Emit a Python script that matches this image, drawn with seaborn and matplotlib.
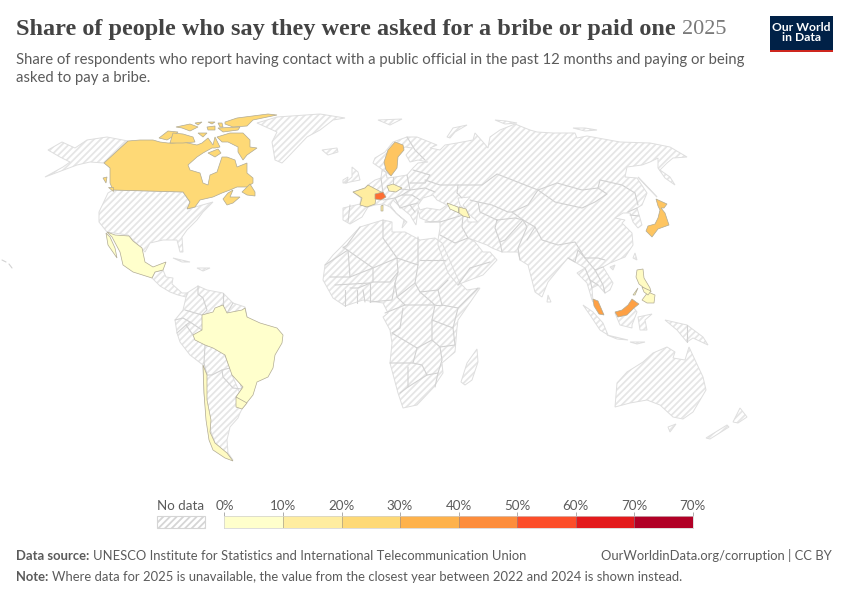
import numpy as np
import matplotlib.pyplot as plt
from matplotlib.colors import ListedColormap
import seaborn as sns

CANADA = [
    [(128,141),(140,140),(153,140),(160,142),(168,143),(173,143),(183,142),(197,145),(202,143),(208,138),(213,145),
     (215,137),(220,147),(215,148),(212,148),(203,153),(197,157),(188,165),(190,170),(200,173),(203,183),(208,185),
     (210,175),(217,172),(222,157),(227,157),(235,160),(237,167),(247,163),(247,173),(253,178),(253,183),(247,187),
     (237,187),(230,190),(222,193),(213,197),(200,200),(195,207),(187,209),(190,202),(183,192),(113,190),(110,183),
     (110,168),(104,163)],
    [(225,122),(237,118),(268,114),(277,115),(253,120),(247,126),(233,127),(225,124)],
    [(218,128),(240,127),(238,130),(223,132)],
    [(176,127),(190,124),(198,127),(190,131),(182,128)],
    [(195,123),(202,122),(198,125)],
    [(208,122),(215,122),(212,124)],
    [(207,127),(215,126),(215,130),(208,130)],
    [(218,123),(222,123),(223,127),(220,127)],
    [(159,138),(168,131),(178,132),(172,137),(167,140)],
    [(170,143),(173,133),(183,134),(193,137),(195,142),(183,143)],
    [(198,133),(207,133),(203,137)],
    [(217,137),(230,133),(243,133),(250,140),(250,147),(257,148),(247,155),(243,160),(238,152),(238,147),(228,142),(222,142)],
    [(208,153),(218,149),(221,153),(215,157)],
    [(242,192),(250,184),(255,192),(255,196),(247,195)],
    [(223,199),(228,193),(233,190),(230,197),(240,197),(233,203),(227,205)],
    [(103,178),(107,177),(106,183)],
    [(108,187),(113,187),(113,191)],
]
MEXICO = [
    [(107,232),(115,235),(129,236),(133,241),(142,248),(145,262),(153,267),(166,262),(163,270),(155,272),(152,278),
     (133,272),(123,265),(120,252),(112,237)],
    [(106,233),(108,245),(117,258),(115,248),(110,237)],
]
BRAZIL = [[(202,315),(213,312),(215,308),(223,305),(227,313),(242,310),(245,308),(247,317),(260,323),(277,328),
           (283,335),(282,343),(275,355),(273,368),(268,377),(257,382),(253,395),(245,405),(236,397),(243,387),
           (232,375),(225,355),(213,348),(205,345),(195,340),(193,335),(202,330)]]
URUGUAY = [[(236,397),(247,403),(242,409),(236,407)]]
CHILE = [[(203,365),(207,375),(207,400),(211,420),(210,432),(215,443),(227,453),(233,461),(225,458),(213,450),
          (209,440),(206,420),(204,393)]]
FRANCE = [
    [(353,192),(365,188),(368,185),(383,193),(376,198),(375,204),(367,207),(360,205),(362,198)],
    [(381,206),(383,205),(383,211),(381,211)],
]
SWITZERLAND = [[(375,194),(383,192),(386,197),(381,200),(375,199)]]
SWEDEN = [[(395,142),(403,145),(404,150),(398,157),(397,168),(391,176),(386,170),(384,162),(388,150)]]
CZECHIA = [[(387,186),(393,184),(402,188),(396,192),(389,191)]]
GEORGIA = [[(447,203),(458,207),(459,213),(450,209)]]
AZERBAIJAN = [[(459,207),(466,209),(470,218),(463,216),(459,213)]]
JAPAN = [
    [(656,199),(667,204),(664,208),(661,208),(665,213),(669,225),(658,229),(652,237),(646,231),(648,226),(655,224),
     (658,218),(660,210),(658,206)],
]
MALAYSIA = [
    [(593,299),(598,301),(604,315),(599,314),(594,306)],
    [(615,312),(622,310),(628,305),(632,299),(636,302),(639,304),(634,308),(627,315),(618,317)],
]
PHILIPPINES = [
    [(637,270),(643,269),(644,278),(650,288),(651,292),(644,288),(639,284),(636,277)],
    [(642,300),(648,292),(655,295),(654,303),(647,303)],
    [(633,295),(638,288),(635,295)],
    [(642,287),(651,291),(648,295),(644,292)],
]

NO_DATA_LANDS = [
    # USA
    [(113,190),(183,192),(190,202),(188,209),(213,202),(203,212),(197,220),(187,230),(182,237),(183,252),(180,252),
     (177,240),(163,240),(150,243),(145,252),(133,240),(128,235),(107,232),(99,222),(99,212),(108,193)],
    # Alaska
    [(128,141),(107,137),(87,140),(75,148),(62,142),(48,150),(60,157),(70,162),(63,167),(45,177),(77,165),(90,162),(104,163)],
    # Central America and Caribbean
    [(152,278),(155,272),(163,270),(166,277),(173,278),(172,284),(182,293),(188,293),(186,297),(178,295),(170,292),(160,286)],
    [(173,258),(190,262),(182,262)],
    [(197,268),(210,268),(203,271)],
    # Greenland, Iceland, Svalbard, Arctic Russia
    [(257,123),(277,117),(320,114),(345,118),(333,120),(320,130),(307,137),(287,158),(282,163),(275,160),(272,142),(277,132)],
    [(322,150),(337,148),(338,152),(328,155)],
    [(378,120),(402,119),(390,125)],
    [(447,137),(453,128),(467,125),(455,132),(450,138)],
    [(495,120),(506,121),(517,123),(505,124)],
    [(573,128),(585,128),(597,130),(585,131)],
    # UK, Ireland
    [(352,167),(358,172),(360,180),(345,183),(352,177)],
    [(343,180),(348,177),(347,183),(343,183)],
    # South America
    [(187,293),(198,286),(207,290),(223,293),(233,303),(245,307),(247,317),(240,340),(232,375),(245,405),(242,409),
     (240,413),(238,418),(230,427),(227,440),(228,453),(233,460),(215,443),(207,420),(204,393),(203,365),(190,355),
     (180,342),(177,333),(175,320),(183,310)],
    # Africa
    [(360,227),(383,220),(392,222),(392,232),(405,232),(420,240),(435,238),(442,243),(457,277),(460,283),(467,290),
     (480,288),(458,320),(457,328),(455,352),(442,363),(443,373),(433,388),(417,405),(403,408),(398,393),(390,363),
     (392,343),(390,330),(383,317),(388,313),(383,303),(363,300),(345,306),(333,298),(323,280),(325,265),(333,255),
     (343,245)],
    [(461,382),(467,363),(477,349),(478,362),(472,380),(465,385)],
    # Eurasia
    [(343,208),(360,204),(361,198),(353,192),(365,188),(368,185),(375,180),(381,178),(382,170),(386,172),(387,178),
     (395,177),(407,175),(413,168),(418,163),(428,162),(418,160),(410,162),(406,155),(412,148),(405,147),(398,155),
     (395,168),(390,175),(383,170),(373,163),(375,158),(385,152),(393,142),(407,137),(417,137),(432,143),(437,145),
     (430,148),(440,150),(445,145),(457,143),(473,140),(475,133),(483,142),(488,148),(490,137),(500,130),(515,124),
     (530,130),(537,132),(553,133),(575,133),(577,138),(587,136),(620,142),(650,143),(670,147),(687,157),(673,158),
     (667,163),(660,170),(670,177),(675,185),(665,178),(658,168),(658,158),(650,162),(642,165),(627,167),(625,177),
     (637,178),(647,193),(642,205),(637,208),(640,218),(642,225),(638,228),(633,222),(630,213),(623,213),(615,218),
     (625,220),(622,223),(632,233),(633,245),(625,257),(610,263),(603,267),(613,283),(610,290),(605,293),(598,285),
     (592,288),(593,302),(597,302),(603,314),(592,300),(590,293),(587,283),(577,273),(585,268),(568,258),(562,265),
     (548,282),(542,297),(535,292),(528,265),(520,260),(518,252),(502,252),(492,248),(487,245),(468,238),(475,242),
     (483,252),(490,252),(497,260),(483,275),(462,283),(458,285),(448,273),(438,245),(438,240),(440,228),(440,221),
     (430,222),(420,218),(418,210),(416,225),(410,215),(398,205),(393,200),(390,205),(396,213),(404,220),(402,228),
     (407,222),(398,215),(390,207),(383,204),(375,205),(368,207),(362,217),(350,224),(343,220)],
    # Asia-Pacific islands
    [(638,177),(644,183),(657,197),(648,188)],
    [(548,295),(551,302),(547,302)],
    [(635,253),(637,260),(633,258)],
    [(610,267),(615,265),(613,270)],
    [(583,305),(593,312),(603,323),(608,335),(600,330),(590,315)],
    [(607,335),(628,340),(617,339)],
    [(615,313),(625,314),(633,307),(637,312),(632,325),(632,328),(620,325)],
    [(638,317),(652,314),(645,320),(647,330),(640,330)],
    [(665,320),(687,325),(703,337),(708,345),(693,338),(687,342),(677,330)],
    [(630,342),(645,342),(637,344)],
    # Australia, Tasmania, New Zealand
    [(615,407),(617,383),(627,372),(643,362),(653,353),(667,347),(675,352),(673,358),(685,360),(689,347),(695,360),
     (703,377),(706,390),(693,412),(683,419),(673,417),(660,405),(647,400),(630,403)],
    [(668,427),(676,424),(670,432)],
    [(706,438),(727,425),(729,427),(710,439)],
    [(733,422),(740,408),(747,417),(738,423)],
]

WATER = [
    [(423,198),(433,195),(437,200),(447,205),(440,210),(427,208),(420,210),(418,205)],
    [(458,198),(470,197),(463,205),(470,215),(478,222),(468,222),(467,212),(460,205)],
]

BORDERS = [
    # Russia / Kazakhstan / Mongolia / China
    [(425,180),(440,185),(458,185),(482,185),(497,174),(520,183),(538,190),(557,183),(582,190),(598,188),(600,180),
     (622,185),(635,193),(638,205)],
    [(538,190),(555,202),(582,208),(595,202),(607,194),(598,188)],
    [(538,190),(528,205),(512,212),(523,220),(535,227),(542,240),(558,245),(575,242),(585,258),(598,258),(605,260)],
    [(458,185),(457,193),(462,198)],
    [(470,200),(478,202),(492,205),(508,212),(512,212)],
    [(478,202),(480,212),(497,220),(515,218),(523,220),(505,240),(500,242),(495,228),(497,220)],
    [(500,242),(502,252)],
    [(523,220),(527,227),(518,248),(520,260)],
    [(535,227),(527,240)],
    [(463,215),(462,227),(468,238)],
    [(425,222),(440,222),(463,215)],
    [(440,235),(455,243),(468,238)],
    [(458,285),(470,268),(490,262)],
    [(628,212),(637,208)],
    [(630,215),(639,216)],
    # South and South-East Asia
    [(568,258),(575,262),(578,250),(585,258)],
    [(585,268),(590,280),(598,285)],
    [(585,258),(595,270),(603,267)],
    [(595,270),(603,285),(605,293)],
    [(590,280),(592,288)],
    # Europe
    [(350,205),(348,222)],
    [(360,204),(368,207)],
    [(407,137),(415,150),(425,160)],
    [(381,178),(383,193)],
    [(393,177),(393,185)],
    [(407,175),(410,190),(400,189)],
    [(413,170),(430,175),(425,183),(410,183)],
    [(410,190),(425,188),(435,192)],
    [(383,200),(395,198),(402,195),(412,195)],
    [(395,198),(400,208),(410,205),(418,203)],
    [(410,205),(415,212)],
    [(402,195),(410,190)],
    [(412,195),(420,200)],
    # Africa
    [(360,227),(347,245),(343,248)],
    [(343,247),(373,268),(397,258),(383,238),(383,220)],
    [(325,265),(348,250),(350,277),(330,277)],
    [(350,277),(373,268),(373,282),(358,288),(350,288)],
    [(373,282),(390,282),(398,272),(397,258),(418,265),(418,237)],
    [(420,260),(445,260)],
    [(418,265),(415,283),(397,297),(395,283),(398,272)],
    [(415,283),(420,292),(438,290),(448,280)],
    [(438,290),(442,305),(458,308),(478,288)],
    [(458,308),(453,328)],
    [(370,283),(370,302)],
    [(370,302),(392,300),(395,283)],
    [(397,297),(405,305),(435,305),(420,292)],
    [(405,305),(385,313)],
    [(403,308),(400,328),(392,333)],
    [(435,305),(432,320),(432,340),(417,348),(392,333)],
    [(442,305),(435,305)],
    [(432,320),(453,328),(455,345),(440,347),(432,340)],
    [(417,348),(413,363),(390,363)],
    [(413,363),(422,365),(427,375),(408,387),(408,367)],
    [(408,387),(400,393)],
    [(440,347),(442,360),(438,373),(435,387)],
    [(427,375),(438,373)],
    [(345,290),(345,306)],
    [(357,290),(357,303)],
    [(363,290),(365,302)],
    [(335,285),(370,283)],
    # New Guinea and South America
    [(687,325),(687,342)],
    [(185,310),(202,315),(207,310),(203,298),(198,294),(198,286)],
    [(223,293),(223,305)],
    [(233,303),(227,313)],
    [(175,320),(183,318),(190,322),(186,325),(177,333)],
    [(190,322),(202,330)],
    [(186,325),(193,335)],
    [(205,345),(204,363)],
    [(204,363),(207,375),(212,375),(222,370),(230,368),(225,355)],
    [(222,370),(223,377),(233,388),(242,389),(239,380),(232,375)],
    [(242,389),(236,397)],
    # Hawaii, kept as thin strokes
    [(2,260),(6,262)],
    [(9,264),(12,268)],
]

# country, share of respondents (%) and its outline
countries = ["Canada", "Mexico", "Brazil", "Uruguay", "Chile", "France", "Switzerland", "Sweden", "Czechia",
             "Georgia", "Azerbaijan", "Japan", "Malaysia", "Philippines"]
shares = [25, 5, 5, 6, 7, 15, 50, 30, 11, 5, 9, 30, 40, 7]
outlines = [CANADA, MEXICO, BRAZIL, URUGUAY, CHILE, FRANCE, SWITZERLAND, SWEDEN, CZECHIA,
            GEORGIA, AZERBAIJAN, JAPAN, MALAYSIA, PHILIPPINES]

bin_colors = ["#ffffcc", "#ffeda0", "#fed976", "#feb24c", "#fd8d3c", "#fc4e2a", "#e31a1c", "#b10026"]
bin_labels = ["0%", "10%", "20%", "30%", "40%", "50%", "60%", "70%", "70%"]

TITLE = "Share of people who say they were asked for a bribe or paid one"
YEAR = "2025"
SUBTITLE = ("Share of respondents who report having contact with a public official in the past 12 months and paying or being\n"
            "asked to pay a bribe.")
SOURCE = "UNESCO Institute for Statistics and International Telecommunication Union"
NOTE = "Where data for 2025 is unavailable, the value from the closest year between 2022 and 2024 is shown instead."
CREDIT = "OurWorldinData.org/corruption | CC BY"

GREY = "#5b5b5b"

sns.set_theme(style="white", rc={"hatch.linewidth": 1.3})
plt.rcParams["font.family"] = ["Lato", "DejaVu Sans"]
palette = np.array(sns.color_palette(bin_colors))
bin_centers = np.arange(len(bin_colors)) * 10 + 5


def share_color(share):
    return [np.interp(share, bin_centers, palette[:, i]) for i in range(3)]


fig = plt.figure(figsize=(8.5, 6), dpi=100, facecolor="white")
ax = fig.add_axes([0, 0, 1, 1])
ax.set_xlim(0, 850)
ax.set_ylim(600, 0)
ax.axis("off")

for ring in NO_DATA_LANDS:
    xs, ys = zip(*ring)
    ax.fill(xs, ys, facecolor="white", edgecolor="#e6e6e6", hatch="/////", linewidth=0, zorder=1)
    ax.fill(xs, ys, fill=False, edgecolor="#dedede", linewidth=0.7, zorder=2)
for ring in WATER:
    xs, ys = zip(*ring)
    ax.fill(xs, ys, facecolor="white", edgecolor="#dedede", linewidth=0.7, zorder=3)
for line in BORDERS:
    xs, ys = zip(*line)
    ax.plot(xs, ys, color="#d2d2d2", linewidth=0.8, zorder=3, solid_joinstyle="round")

for name, share, rings in zip(countries, shares, outlines):
    for ring in rings:
        xs, ys = zip(*ring)
        ax.fill(xs, ys, facecolor=share_color(share), edgecolor="#b0aa94", linewidth=0.5, zorder=4)

# header
renderer = fig.canvas.get_renderer()
t = ax.text(16, 30, TITLE, family="Liberation Serif", fontsize=17.45, fontweight="bold", color="#444444", va="center")
end = t.get_window_extent(renderer).x1
ax.text(end + 6, 30, YEAR, family="Liberation Serif", fontsize=16, color="#7a7a7a", va="center")
ax.text(16, 69, SUBTITLE, fontsize=10.73, color=GREY, va="center", linespacing=1.4)

# logo
ax.add_patch(plt.Rectangle((770, 16), 63, 36, facecolor="#002147", edgecolor="none", zorder=5))
ax.add_patch(plt.Rectangle((770, 49.5), 63, 2.5, facecolor="#ce261e", edgecolor="none", zorder=6))
ax.text(801.5, 32.5, "Our World\nin Data", color="white", fontsize=8.7, fontweight="bold", ha="center", va="center",
        linespacing=0.95, zorder=7)

# legend
ax.text(181, 506, "No data", fontsize=9.6, color=GREY, ha="center", va="center")
ax.fill([157, 205, 205, 157], [516, 516, 528, 528], facecolor="white", edgecolor="#d5d5d5", hatch="/////", linewidth=0.8)

cax = fig.add_axes([224.5 / 850, 1 - 528 / 600, 468 / 850, 12 / 600])
sns.heatmap(np.arange(len(bin_colors)).reshape(1, -1), cmap=ListedColormap(bin_colors), cbar=False,
            linewidths=0, xticklabels=False, yticklabels=False, ax=cax)
cax.set_xticks(np.arange(len(bin_labels)))
cax.set_xticklabels(bin_labels, fontsize=9.6, color=GREY)
cax.tick_params(axis="x", top=True, bottom=False, labeltop=True, labelbottom=False, length=3, width=0.6,
                color="#a0a0a0", pad=0)
cax.set_yticks([])
for edge in range(1, len(bin_colors)):
    cax.axvline(edge, color="#8c8c8c", alpha=0.55, linewidth=0.7)
for side in cax.spines.values():
    side.set_visible(True)
    side.set_color("#cfcfcf")
    side.set_linewidth(0.5)
cax.set_zorder(5)

# footer
t = ax.text(16, 556, "Data source:", fontsize=9.35, fontweight="bold", color=GREY, va="center")
ax.text(t.get_window_extent(renderer).x1 + 3.5, 556, SOURCE, fontsize=9.35, color=GREY, va="center")
ax.text(832, 556, CREDIT, fontsize=9.35, color=GREY, va="center", ha="right")
t = ax.text(16, 577, "Note:", fontsize=9.35, fontweight="bold", color=GREY, va="center")
ax.text(t.get_window_extent(renderer).x1 + 3.5, 577, NOTE, fontsize=9.35, color=GREY, va="center")

fig.savefig("out.png", dpi=100)
plt.close(fig)
